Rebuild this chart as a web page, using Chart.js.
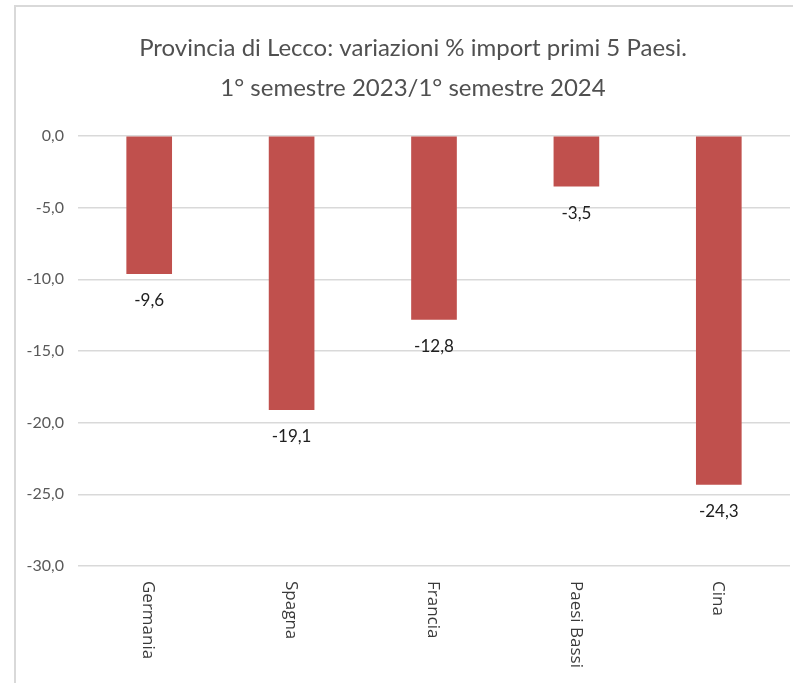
<!DOCTYPE html>
<html>
<head>
<meta charset="utf-8">
<script src="https://cdn.jsdelivr.net/npm/chart.js@4"></script>
<style>
  body { margin: 0; background: #fff; }
  #wrap { position: relative; width: 793px; height: 683px; overflow: hidden; }
  #frame { position: absolute; left: 14px; top: 5px; width: 800px; height: 700px; border: 2px solid #d9d9d9; pointer-events: none; }
  canvas { position: absolute; left: 0; top: 0; }
</style>
</head>
<body>
<div id="wrap">
  <canvas id="myChart" width="793" height="683"></canvas>
  <div id="frame"></div>
</div>
<script>
const titolo = ["Provincia di Lecco: variazioni % import primi 5 Paesi.", "1° semestre 2023/1° semestre 2024"];
const paesi = ["Germania", "Spagna", "Francia", "Paesi Bassi", "Cina"];
const variazioni = [-9.6, -19.1, -12.8, -3.5, -24.3];
const tickValori = [0, -5, -10, -15, -20, -25, -30];

const formatta = (v) => v.toFixed(1).replace(".", ",");

// titolo, etichette dei valori e nomi dei paesi disegnati a mano
const disegnaTesti = {
    id: "disegnaTesti",
    afterDraw(chart) {
        const ctx = chart.ctx;
        const x = chart.scales.x;
        const y = chart.scales.y;
        ctx.save();
        ctx.fillStyle = "#505050";
        ctx.font = "24px Lato";
        ctx.textAlign = "center";
        ctx.textBaseline = "middle";
        ctx.fillText(titolo[0], 413, 48);
        ctx.fillText(titolo[1], 413, 88);

        ctx.fillStyle = "#202020";
        ctx.font = "17px Lato";
        variazioni.forEach((v, i) => {
            ctx.fillText(formatta(v), x.getPixelForValue(i), y.getPixelForValue(v) + 27);
        });

        ctx.fillStyle = "#3a3a3a";
        ctx.font = "17px 'Open Sans'";
        ctx.textAlign = "left";
        paesi.forEach((p, i) => {
            ctx.save();
            ctx.translate(x.getPixelForValue(i) - 1, y.bottom + 15);
            ctx.rotate(Math.PI / 2);
            ctx.fillText(p, 0, 0);
            ctx.restore();
        });
        ctx.restore();
    }
};

const ctx = document.getElementById("myChart").getContext("2d");
const myChart = new Chart(ctx, {
    type: "bar",
    data: {
        labels: paesi,
        datasets: [{
            data: variazioni,
            backgroundColor: "#C0504D",
            barThickness: 45,
        }]
    },
    options: {
        responsive: false,
        animation: false,
        layout: { padding: { left: 15, right: 3, top: 136, bottom: 109 } },
        plugins: {
            legend: { display: false },
            title: { display: false },
            tooltip: { enabled: false }
        },
        scales: {
            x: {
                ticks: { display: false },
                grid: { display: false },
                border: { display: false }
            },
            y: {
                min: -30,
                max: 0,
                afterFit(scale) { scale.width = 63; },
                afterBuildTicks(scale) { scale.ticks = tickValori.map(v => ({ value: v })); },
                ticks: {
                    padding: 14,
                    color: "#595959",
                    font: { family: "Lato", size: 16 },
                    callback: (v) => formatta(v)
                },
                grid: { color: "#d9d9d9", lineWidth: 1.5, drawTicks: false },
                border: { display: false }
            }
        }
    },
    plugins: [disegnaTesti]
});
</script>
</body>
</html>
